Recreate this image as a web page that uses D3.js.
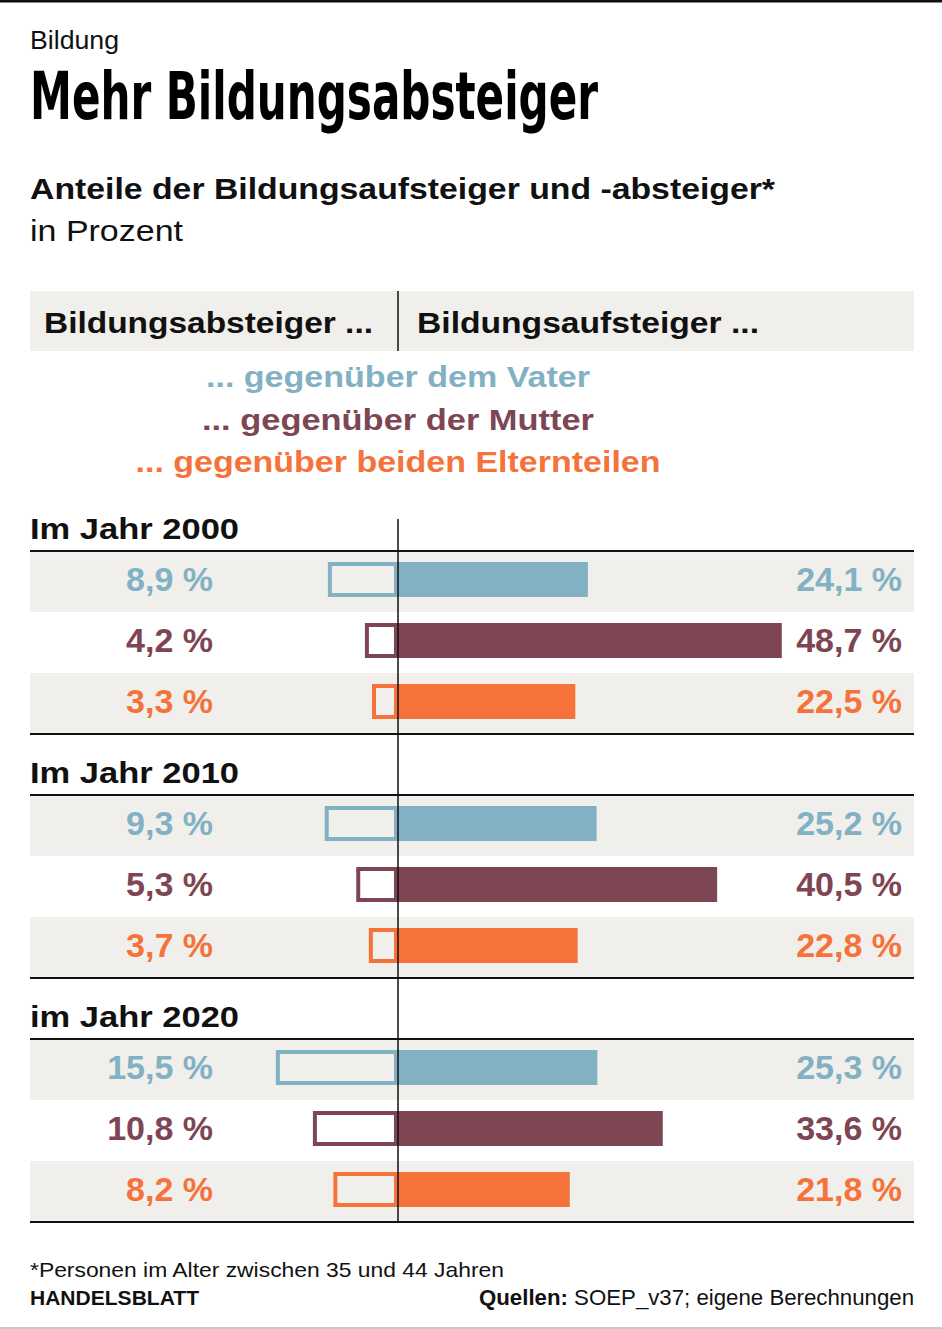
<!DOCTYPE html>
<html><head><meta charset="utf-8">
<script src="https://cdn.jsdelivr.net/npm/d3@7"></script>
<style>
html,body{margin:0;padding:0;background:#fff;}
svg{display:block;}
text{font-family:"Liberation Sans",Arial,Helvetica,sans-serif;}
</style></head>
<body>
<svg id="chart" width="942" height="1329"></svg>
<script>
// ---- data ----
const years = ["Im Jahr 2000", "Im Jahr 2010", "im Jahr 2020"];
const seriesNames = ["... gegenüber dem Vater", "... gegenüber der Mutter", "... gegenüber beiden Elternteilen"];
const absteiger = [ // left side, per year: Vater, Mutter, beide
  [8.9, 4.2, 3.3],
  [9.3, 5.3, 3.7],
  [15.5, 10.8, 8.2]
];
const aufsteiger = [ // right side
  [24.1, 48.7, 22.5],
  [25.2, 40.5, 22.8],
  [25.3, 33.6, 21.8]
];
const colors = ["#82b1c3", "#7e4553", "#f5733a"];

// ---- layout ----
const svg = d3.select("#chart");
const W = 942, L = 30, R = 914, axisX = 398;
const band = "#f0efeb";
const fmt = v => d3.format(".1f")(v).replace(".", ",") + " %";
const x = d3.scaleLinear().domain([0, 50]).range([0, 394]);

function fit(sel, w){ return sel.attr("textLength", w).attr("lengthAdjust", "spacingAndGlyphs"); }

// top rule & bottom rule
svg.append("rect").attr("x",0).attr("y",0).attr("width",W).attr("height",2.5).attr("fill","#111");
svg.append("rect").attr("x",0).attr("y",1327).attr("width",W).attr("height",2).attr("fill","#c8c8c8");

// header texts
fit(svg.append("text").attr("x",L).attr("y",49).attr("font-size",25).attr("fill","#111").text("Bildung"), 89);
fit(svg.append("text").attr("x",L).attr("y",119).attr("font-size",66).attr("font-weight","bold")
  .style("font-family",'"Liberation Sans Narrow","DejaVu Sans Condensed",sans-serif').attr("fill","#000")
  .text("Mehr Bildungsabsteiger"), 568);
fit(svg.append("text").attr("x",L).attr("y",199).attr("font-size",30).attr("font-weight","bold").attr("fill","#111")
  .text("Anteile der Bildungsaufsteiger und -absteiger*"), 745);
fit(svg.append("text").attr("x",L).attr("y",241).attr("font-size",30).attr("fill","#111").text("in Prozent"), 153);

// column header band
svg.append("rect").attr("x",L).attr("y",291).attr("width",R-L).attr("height",60).attr("fill",band);
svg.append("line").attr("x1",axisX).attr("x2",axisX).attr("y1",291).attr("y2",351).attr("stroke","#111").attr("stroke-width",1.5);
fit(svg.append("text").attr("x",44).attr("y",333).attr("font-size",30).attr("font-weight","bold").attr("fill","#111")
  .text("Bildungsabsteiger ..."), 329);
fit(svg.append("text").attr("x",417).attr("y",333).attr("font-size",30).attr("font-weight","bold").attr("fill","#111")
  .text("Bildungsaufsteiger ..."), 342);

// legend
const legendW = [384, 392, 525];
svg.selectAll("text.legend").data(seriesNames).join("text").attr("class","legend")
  .attr("x",axisX).attr("y",(d,i)=>387+i*42.5).attr("text-anchor","middle")
  .attr("font-size",30).attr("font-weight","bold").attr("fill",(d,i)=>colors[i])
  .attr("textLength",(d,i)=>legendW[i]).attr("lengthAdjust","spacingAndGlyphs")
  .text(d=>d);

// sections
const sec0 = 551, secStep = 244, rowH = 61;
years.forEach((yr, s) => {
  const top = sec0 + s*secStep;
  const g = svg.append("g");
  fit(g.append("text").attr("x",L).attr("y",top-12).attr("font-size",30).attr("font-weight","bold").attr("fill","#111").text(yr), 209);
  const rows = d3.range(3).map(j => ({j, left: absteiger[s][j], right: aufsteiger[s][j]}));
  g.selectAll("rect.band").data(rows.filter(d=>d.j!==1)).join("rect")
    .attr("x",L).attr("y",d=>top+d.j*rowH).attr("width",R-L).attr("height",rowH).attr("fill",band);
  // right bars
  g.selectAll("rect.rbar").data(rows).join("rect")
    .attr("x",axisX).attr("y",d=>top+d.j*rowH+11).attr("width",d=>x(d.right)).attr("height",35)
    .attr("fill",d=>colors[d.j]);
  // left outline boxes
  g.selectAll("rect.lbar").data(rows).join("rect")
    .attr("x",d=>axisX-x(d.left)+2).attr("y",d=>top+d.j*rowH+11+2)
    .attr("width",d=>x(d.left)-4).attr("height",31)
    .attr("fill","none").attr("stroke",d=>colors[d.j]).attr("stroke-width",4);
  // labels
  g.selectAll("text.lv").data(rows).join("text")
    .attr("x",213).attr("y",d=>top+d.j*rowH+40).attr("text-anchor","end")
    .attr("font-size",34).attr("font-weight","bold").attr("fill",d=>colors[d.j])
    .text(d=>fmt(d.left));
  g.selectAll("text.rv").data(rows).join("text")
    .attr("x",902).attr("y",d=>top+d.j*rowH+40).attr("text-anchor","end")
    .attr("font-size",34).attr("font-weight","bold").attr("fill",d=>colors[d.j])
    .text(d=>fmt(d.right));
  // rules
  [top, top+3*rowH].forEach(yy =>
    g.append("line").attr("x1",L).attr("x2",R).attr("y1",yy).attr("y2",yy).attr("stroke","#111").attr("stroke-width",2));
});

// axis line
svg.append("line").attr("x1",axisX).attr("x2",axisX).attr("y1",519).attr("y2",1222).attr("stroke","#111").attr("stroke-width",1.5);

// footer
fit(svg.append("text").attr("x",L).attr("y",1277).attr("font-size",21).attr("fill","#111")
  .text("*Personen im Alter zwischen 35 und 44 Jahren"), 474);
fit(svg.append("text").attr("x",L).attr("y",1305).attr("font-size",21).attr("font-weight","bold").attr("fill","#111")
  .text("HANDELSBLATT"), 169);
const src = svg.append("text").attr("x",R).attr("y",1305).attr("font-size",22).attr("text-anchor","end").attr("fill","#111");
fit(src, 435);
src.append("tspan").attr("font-weight","bold").text("Quellen: ");
src.append("tspan").text("SOEP_v37; eigene Berechnungen");
</script>
</body></html>
